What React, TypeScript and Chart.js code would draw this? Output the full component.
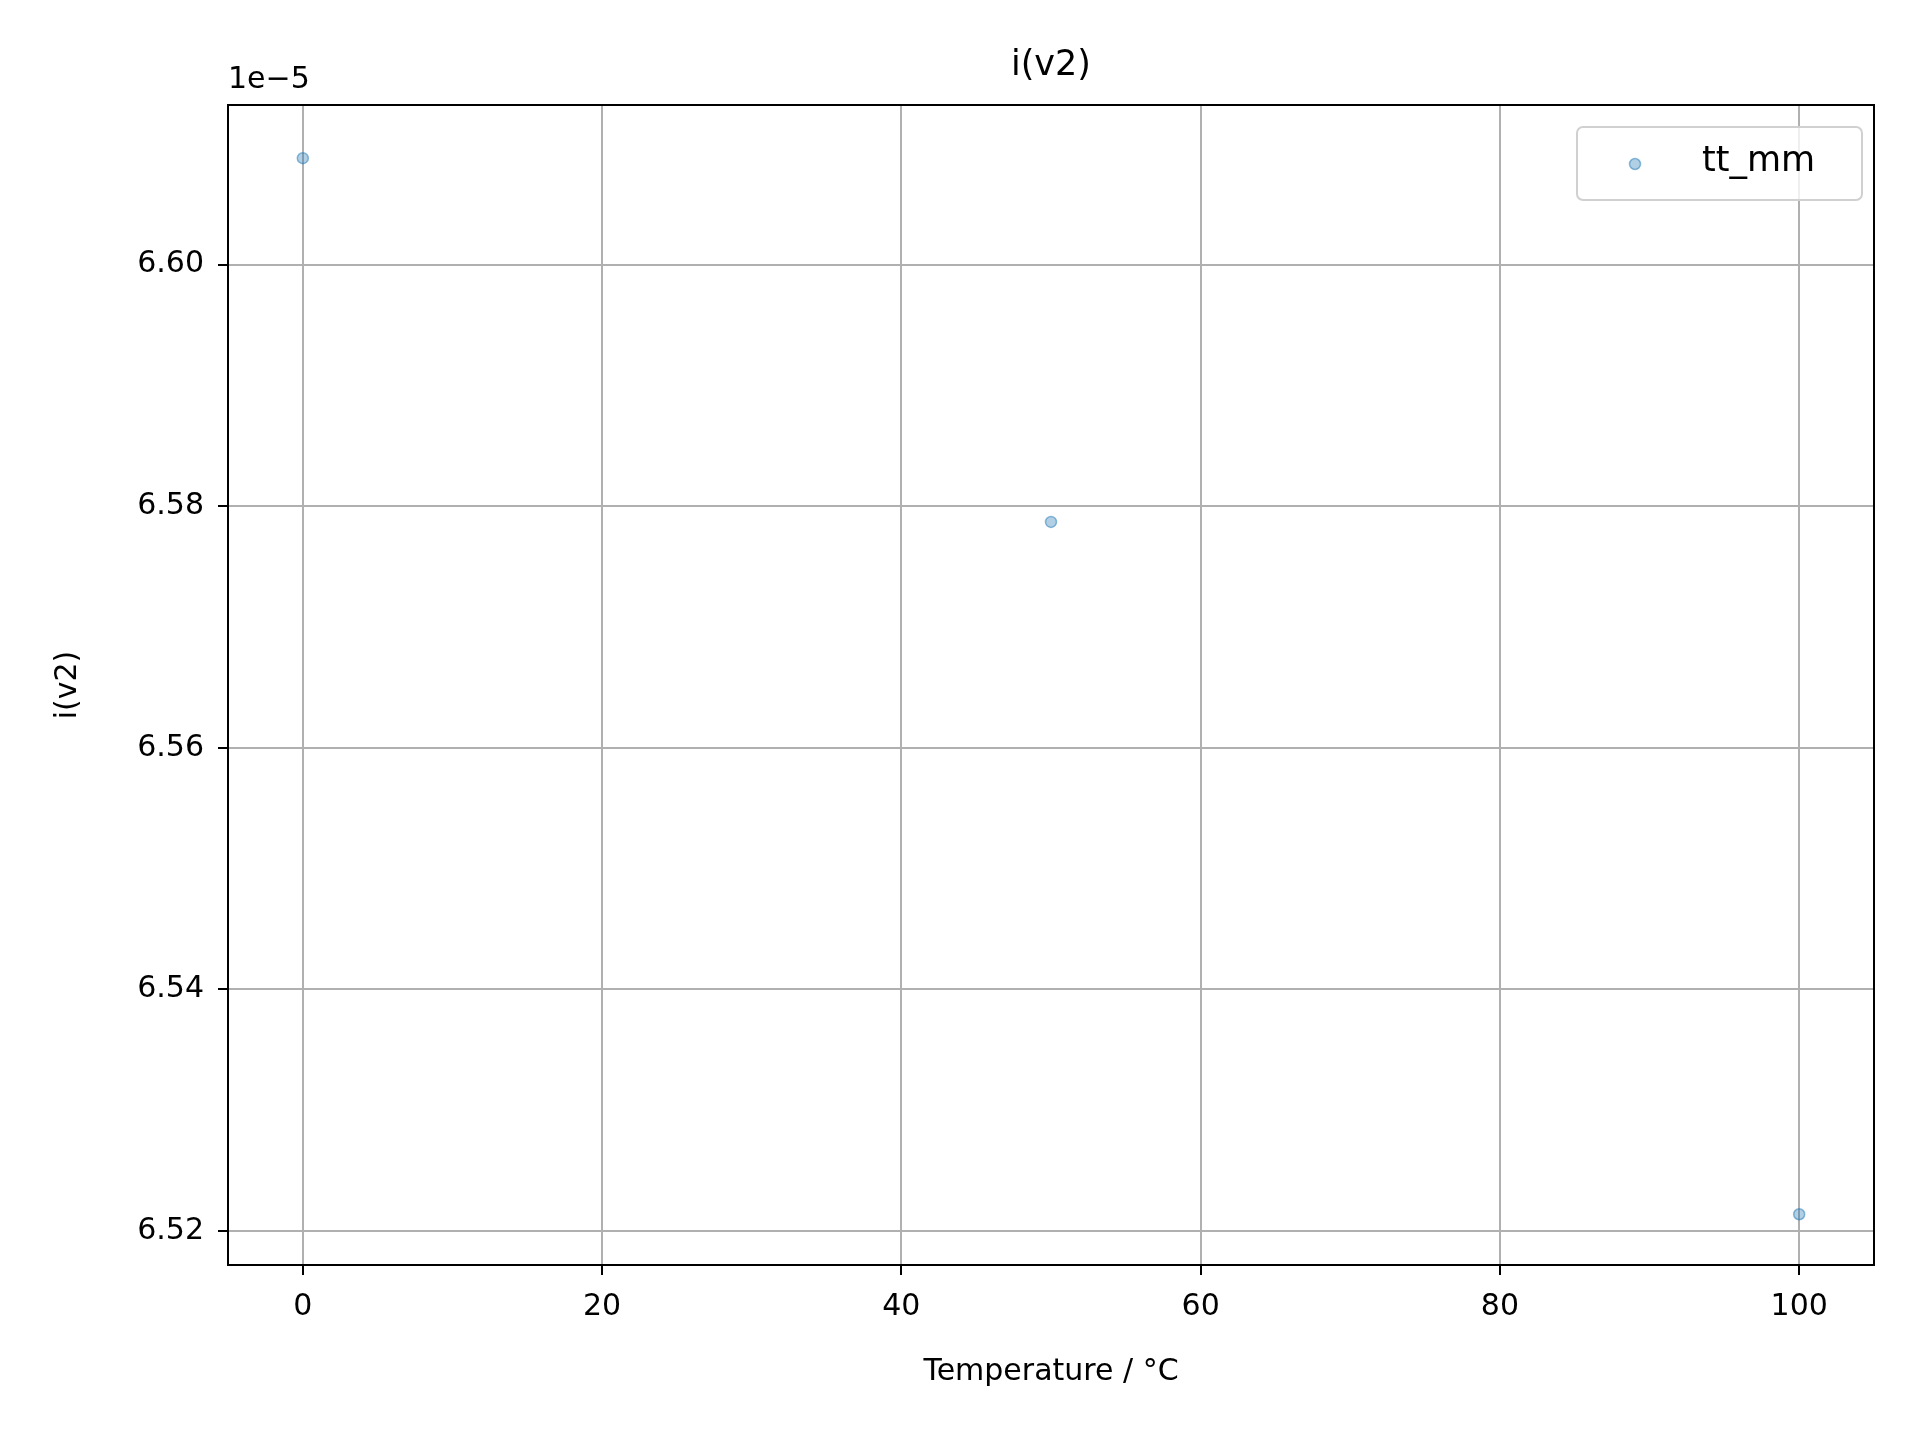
import { useEffect, useRef } from "react";
import { Chart, registerables } from "chart.js";

Chart.register(...registerables);

// temperatures in °C, current in units of 1e-5
const temperatures = [0, 50, 100];
const currents = [6.6088, 6.5787, 6.5214];
const yTicks = [6.52, 6.54, 6.56, 6.58, 6.6];
const xTicks = [0, 20, 40, 60, 80, 100];
const seriesName = "tt_mm";

const FONT = "'DejaVu Sans', sans-serif";

const textPlugin = {
  id: "mplText",
  afterDraw(chart: Chart) {
    const ctx = chart.ctx;
    const a = chart.chartArea;
    ctx.save();
    ctx.fillStyle = "#000";
    ctx.textBaseline = "middle";
    ctx.font = `35px ${FONT}`;
    ctx.textAlign = "center";
    ctx.fillText("i(v2)", (a.left + a.right) / 2, 66);
    ctx.font = `30px ${FONT}`;
    ctx.textAlign = "left";
    ctx.fillText("1e\u22125", a.left, 80);
    ctx.textAlign = "center";
    ctx.fillText("Temperature / \u00b0C", (a.left + a.right) / 2, 1372);
    ctx.save();
    ctx.translate(68, (a.top + a.bottom) / 2);
    ctx.rotate(-Math.PI / 2);
    ctx.fillText("i(v2)", 0, 0);
    ctx.restore();
    // legend
    const lx = 1577, ly = 127, lw = 285, lh = 73;
    ctx.fillStyle = "rgba(255,255,255,0.8)";
    ctx.strokeStyle = "#d0d0d0";
    ctx.lineWidth = 2;
    ctx.beginPath();
    ctx.roundRect(lx, ly, lw, lh, 6);
    ctx.fill();
    ctx.stroke();
    ctx.beginPath();
    ctx.arc(1635, 164, 5.5, 0, Math.PI * 2);
    ctx.fillStyle = "rgba(31,119,180,0.35)";
    ctx.fill();
    ctx.strokeStyle = "rgba(31,119,180,0.5)";
    ctx.lineWidth = 1.5;
    ctx.stroke();
    ctx.fillStyle = "#000";
    ctx.font = `35px ${FONT}`;
    ctx.textAlign = "left";
    ctx.fillText(seriesName, 1702, 162);
    ctx.restore();
  },
};

export default function App() {
  const ref = useRef<HTMLCanvasElement>(null);

  useEffect(() => {
    if (!ref.current) return;
    const chart = new Chart(ref.current, {
      type: "scatter",
      data: {
        datasets: [
          {
            label: seriesName,
            data: temperatures.map((t, i) => ({ x: t, y: currents[i] })),
            backgroundColor: "rgba(31,119,180,0.35)",
            borderColor: "rgba(31,119,180,0.5)",
            borderWidth: 1.5,
            pointRadius: 5.5,
          },
        ],
      },
      options: {
        responsive: false,
        animation: false,
        layout: { padding: { top: 105, right: 46, left: 0, bottom: 0 } },
        plugins: { legend: { display: false }, title: { display: false }, tooltip: { enabled: false } },
        scales: {
          x: {
            type: "linear",
            min: -5,
            max: 105,
            afterFit: (s: any) => { s.height = 175; },
            afterBuildTicks: (s: any) => {
              s.ticks = xTicks.map((v) => ({ value: v }));
            },
            ticks: { color: "#000", font: { family: FONT, size: 30 }, padding: 14 },
            grid: { color: "#b0b0b0", lineWidth: 2, tickLength: 10, tickColor: "#000" },
            border: { color: "#000", width: 2 },
          },
          y: {
            type: "linear",
            min: 6.5172,
            max: 6.6132,
            afterFit: (s: any) => { s.width = 228; },
            afterBuildTicks: (s: any) => {
              s.ticks = yTicks.map((v) => ({ value: v }));
            },
            ticks: {
              color: "#000",
              font: { family: FONT, size: 30 },
              padding: 14,
              callback: (v: any) => Number(v).toFixed(2),
            },
            grid: { color: "#b0b0b0", lineWidth: 2, tickLength: 10, tickColor: "#000" },
            border: { color: "#000", width: 2 },
          },
        },
      },
      plugins: [
        textPlugin,
        {
          id: "frame",
          afterDraw(c: Chart) {
            const { ctx, chartArea: a } = c;
            ctx.save();
            ctx.strokeStyle = "#000";
            ctx.lineWidth = 2;
            ctx.strokeRect(a.left, a.top, a.right - a.left, a.bottom - a.top);
            ctx.restore();
          },
        },
      ],
    });
    return () => chart.destroy();
  }, []);

  return (
    <canvas
      ref={ref}
      width={1920}
      height={1440}
      style={{ position: "absolute", left: 0, top: 0, width: 1920, height: 1440, background: "#fff" }}
    />
  );
}
